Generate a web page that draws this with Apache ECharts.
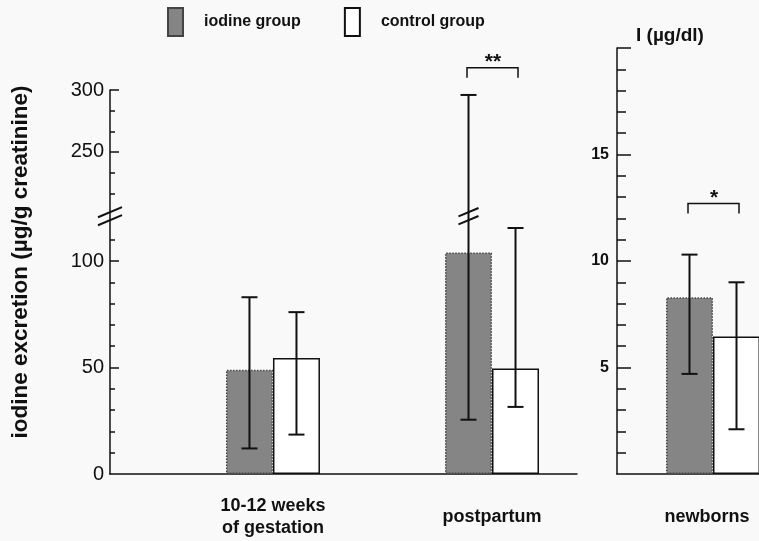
<!DOCTYPE html>
<html><head><meta charset="utf-8">
<script src="https://cdn.jsdelivr.net/npm/echarts@6/dist/echarts.min.js"></script>
<style>html,body{margin:0;padding:0;background:#f9f9f9}#c{width:759px;height:541px}</style>
</head><body><div id="c"></div>
<script>
// ---------- data ----------
const categories = ['10-12 weeks\nof gestation', 'postpartum'];
const newbornCategory = ['newborns'];
// maternal urinary iodine excretion (µg/g creatinine)
const iodineMean  = [49, 104];
const iodineLow   = [12, 25.5];
const iodineHigh  = [83, 296];
const controlMean = [54.5, 49.5];
const controlLow  = [18.5, 31.5];
const controlHigh = [76, 115.5];
// newborns, I (µg/dl)
const nbIodineMean  = [8.3];
const nbIodineLow   = [4.7];
const nbIodineHigh  = [10.3];
const nbControlMean = [6.45];
const nbControlLow  = [2.1];
const nbControlHigh = [9.0];
// axes
const leftTickLabels  = [0, 50, 100, 250, 300];
const leftMajorTicks  = [50, 100, 250, 300];
const leftMinorTicks  = [10, 20, 30, 40, 60, 70, 80, 90, 110, 216.7, 233.3, 266.7, 283.3];
const rightTickLabels = [5, 10, 15];
const rightMajorTicks = [5, 10, 15, 20];
const rightMinorTicks = [1, 2, 3, 4, 6, 7, 8, 9, 11, 12, 13, 14, 16, 17, 18, 19];
const breakValue = 160;
// significance brackets
const sigLeft  = [{cat: 1, level: 318, text: '**'}];
const sigRight = [{cat: 0, level: 12.7, text: '*'}];

// ---------- broken scale (lower 0..120 linear, upper 200..300 compressed) ----------
const UP_REF = 250, UP_POS = 151.2, UP_K = 0.582;
function t(v) {
  if (v <= 120) return v;
  const hiStart = UP_POS + (200 - UP_REF) * UP_K;
  if (v >= 200) return UP_POS + (v - UP_REF) * UP_K;
  return 120 + (v - 120) / 80 * (hiStart - 120);
}
function tInv(d) {
  if (d <= 120) return d;
  return UP_REF + (d - UP_POS) / UP_K;
}

const BAR_W = 47;
const FONT = '"Liberation Sans", Arial, Helvetica, sans-serif';
const INK = '#111';
const LX_MIN = -0.744, LX_MAX = 1.388;
const RX_MIN = -0.48, RX_MAX = 0.52;

const iodineStyle = {color: '#858585', borderColor: '#444', borderType: 'dotted', borderWidth: 1.5};
const controlStyle = {color: '#ffffff', borderColor: INK, borderWidth: 1.5};

function errRender(sign) {
  return function (params, api) {
    const x = api.value(0), lo = api.value(1), hi = api.value(2);
    const pLo = api.coord([x, lo]), pHi = api.coord([x, hi]);
    const cx = pLo[0] + sign * BAR_W / 2;
    const cap = 8;
    const st = {stroke: INK, lineWidth: 2};
    return {type: 'group', children: [
      {type: 'line', shape: {x1: cx, y1: pHi[1], x2: cx, y2: pLo[1]}, style: st},
      {type: 'line', shape: {x1: cx - cap, y1: pHi[1], x2: cx + cap, y2: pHi[1]}, style: st},
      {type: 'line', shape: {x1: cx - cap, y1: pLo[1], x2: cx + cap, y2: pLo[1]}, style: st}
    ]};
  };
}
function breakRender(shift, half) {
  return function (params, api) {
    const p = api.coord([api.value(0), api.value(1)]);
    const cx = p[0] + shift, cy = p[1];
    const dy = half * 0.42;
    const st = {stroke: INK, lineWidth: 2};
    return {type: 'group', children: [
      {type: 'line', shape: {x1: cx - half, y1: cy - 4 + dy, x2: cx + half, y2: cy - 4 - dy}, style: st},
      {type: 'line', shape: {x1: cx - half, y1: cy + 4 + dy, x2: cx + half, y2: cy + 4 - dy}, style: st}
    ]};
  };
}
function bracketRender(texts) {
  return function (params, api) {
    const p = api.coord([api.value(0), api.value(1)]);
    const x1 = p[0] - 25, x2 = p[0] + 26, y = p[1];
    return {type: 'group', children: [
      {type: 'polyline', shape: {points: [[x1, y + 10], [x1, y], [x2, y], [x2, y + 10]]},
        style: {stroke: INK, lineWidth: 1.5, fill: null}},
      {type: 'text', x: p[0] + 1, y: y - 16,
        style: {text: texts[params.dataIndex], fontSize: 21, fontWeight: 'bold', fontFamily: FONT,
          fill: INK, align: 'center', verticalAlign: 'top'}}
    ]};
  };
}

const axisLineStyle = {color: INK, width: 1.5};

const option = {
  backgroundColor: '#f9f9f9',
  animation: false,
  legend: {
    data: ['iodine group', 'control group'],
    left: 167, top: 7, padding: 0,
    itemWidth: 15, itemHeight: 28, itemGap: 43,
    icon: 'rect',
    selectedMode: false,
    textStyle: {fontSize: 16, fontWeight: 'bold', fontFamily: FONT, color: INK, padding: [0, 0, 0, 16]}
  },
  graphic: [{
    type: 'text', x: 21, y: 262, rotation: Math.PI / 2,
    style: {text: 'iodine excretion (µg/g creatinine)', fontSize: 22.5, fontWeight: 'bold',
      fontFamily: FONT, fill: INK, align: 'center', verticalAlign: 'middle'}
  }],
  grid: [
    {left: 110, top: 90, width: 467, height: 384, outerBoundsMode: 'none', containLabel: false},
    {left: 617, top: 48, width: 200, height: 426, outerBoundsMode: 'none', containLabel: false}
  ],
  xAxis: [
    {gridIndex: 0, type: 'value', min: LX_MIN, max: LX_MAX,
      splitLine: {show: false}, axisTick: {show: false},
      axisLine: {onZero: false, lineStyle: axisLineStyle},
      axisLabel: {customValues: [0, 1], formatter: v => categories[Math.round(v)] || '',
        margin: 43, verticalAlign: 'middle', lineHeight: 22, fontSize: 18, fontWeight: 'bold',
        fontFamily: FONT, color: INK}},
    {gridIndex: 1, type: 'value', min: RX_MIN, max: RX_MAX,
      splitLine: {show: false}, axisTick: {show: false},
      axisLine: {onZero: false, lineStyle: axisLineStyle},
      axisLabel: {customValues: [0], formatter: v => newbornCategory[Math.round(v)] || '',
        margin: 43, verticalAlign: 'middle', fontSize: 18, fontWeight: 'bold', padding: [0, 12, 0, 0],
        fontFamily: FONT, color: INK}}
  ],
  yAxis: [
    {gridIndex: 0, type: 'value', min: 0, max: t(300), position: 'left',
      splitLine: {show: false},
      axisLine: {show: true, onZero: false, lineStyle: axisLineStyle},
      axisTick: {show: true, inside: true, length: 9, customValues: leftMajorTicks.map(t), lineStyle: axisLineStyle},
      axisLabel: {customValues: leftTickLabels.map(t), formatter: v => String(Math.round(tInv(v))),
        margin: 6, fontSize: 20, fontFamily: FONT, color: INK}},
    {gridIndex: 0, type: 'value', min: 0, max: t(300), position: 'left', offset: 0,
      splitLine: {show: false}, axisLine: {show: false, onZero: false},
      axisTick: {show: true, inside: true, length: 5, customValues: leftMinorTicks.map(t), lineStyle: axisLineStyle},
      axisLabel: {show: false}},
    {gridIndex: 1, type: 'value', min: 0, max: 20, position: 'left',
      name: 'I (µg/dl)', nameLocation: 'end', nameGap: 3,
      nameTextStyle: {align: 'left', padding: [0, 0, 0, 19], fontSize: 19, fontWeight: 'bold', fontFamily: FONT, color: INK},
      splitLine: {show: false},
      axisLine: {show: true, onZero: false, lineStyle: axisLineStyle},
      axisTick: {show: true, inside: true, length: 14, customValues: rightMajorTicks, lineStyle: axisLineStyle},
      axisLabel: {customValues: rightTickLabels, margin: 8, fontSize: 16, fontWeight: 'bold', fontFamily: FONT, color: INK}},
    {gridIndex: 1, type: 'value', min: 0, max: 20, position: 'left', offset: 0,
      splitLine: {show: false}, axisLine: {show: false, onZero: false},
      axisTick: {show: true, inside: true, length: 9, customValues: rightMinorTicks, lineStyle: axisLineStyle},
      axisLabel: {show: false}}
  ],
  series: [
    {type: 'bar', name: 'iodine group', xAxisIndex: 0, yAxisIndex: 0, barWidth: BAR_W, barGap: '0%',
      data: iodineMean.map((v, i) => [i, t(v)]), itemStyle: iodineStyle, silent: true},
    {type: 'bar', name: 'control group', xAxisIndex: 0, yAxisIndex: 0, barWidth: BAR_W, barGap: '0%',
      data: controlMean.map((v, i) => [i, t(v)]), itemStyle: controlStyle, silent: true},
    {type: 'bar', name: 'iodine group', xAxisIndex: 1, yAxisIndex: 2, barWidth: BAR_W, barGap: '0%',
      data: nbIodineMean.map((v, i) => [i, v]), itemStyle: iodineStyle, silent: true},
    {type: 'bar', name: 'control group', xAxisIndex: 1, yAxisIndex: 2, barWidth: BAR_W, barGap: '0%',
      data: nbControlMean.map((v, i) => [i, v]), itemStyle: controlStyle, silent: true},
    {type: 'custom', xAxisIndex: 0, yAxisIndex: 0, z: 5, clip: false, silent: true,
      renderItem: errRender(-1), encode: {x: 0, y: [1, 2]},
      data: iodineMean.map((v, i) => [i, t(iodineLow[i]), t(iodineHigh[i])])},
    {type: 'custom', xAxisIndex: 0, yAxisIndex: 0, z: 5, clip: false, silent: true,
      renderItem: errRender(1), encode: {x: 0, y: [1, 2]},
      data: controlMean.map((v, i) => [i, t(controlLow[i]), t(controlHigh[i])])},
    {type: 'custom', xAxisIndex: 1, yAxisIndex: 2, z: 5, clip: false, silent: true,
      renderItem: errRender(-1), encode: {x: 0, y: [1, 2]},
      data: nbIodineMean.map((v, i) => [i, nbIodineLow[i], nbIodineHigh[i]])},
    {type: 'custom', xAxisIndex: 1, yAxisIndex: 2, z: 5, clip: false, silent: true,
      renderItem: errRender(1), encode: {x: 0, y: [1, 2]},
      data: nbControlMean.map((v, i) => [i, nbControlLow[i], nbControlHigh[i]])},
    // break marks: on the left axis and on the postpartum iodine error bar
    {type: 'custom', xAxisIndex: 0, yAxisIndex: 0, z: 6, clip: false, silent: true,
      renderItem: breakRender(0, 12), data: [[LX_MIN, t(breakValue)]]},
    {type: 'custom', xAxisIndex: 0, yAxisIndex: 0, z: 6, clip: false, silent: true,
      renderItem: breakRender(-BAR_W / 2, 10), data: [[1, t(breakValue)]]},
    // significance brackets
    {type: 'custom', xAxisIndex: 0, yAxisIndex: 0, z: 6, clip: false, silent: true,
      renderItem: bracketRender(sigLeft.map(s => s.text)), data: sigLeft.map(s => [s.cat, t(s.level)])},
    {type: 'custom', xAxisIndex: 1, yAxisIndex: 2, z: 6, clip: false, silent: true,
      renderItem: bracketRender(sigRight.map(s => s.text)), data: sigRight.map(s => [s.cat, s.level])}
  ]
};
const chart = echarts.init(document.getElementById('c'), null, {renderer: 'canvas'});
chart.setOption(option);
</script></body></html>
